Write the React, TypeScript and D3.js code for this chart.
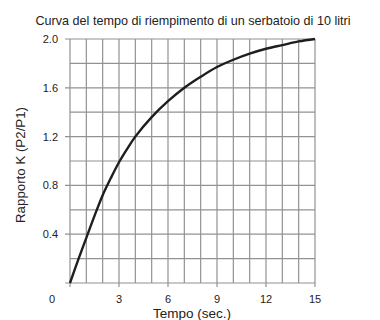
import * as d3 from "d3";

const title = "Curva del tempo di riempimento di un serbatoio di 10 litri";
const xLabel = "Tempo (sec.)";
const yLabel = "Rapporto K (P2/P1)";

// tempo (s) and rapporto K
const tempo = [0, 0.5, 1, 1.5, 2, 2.5, 3, 3.5, 4, 5, 6, 7, 8, 9, 10, 11, 12, 13, 14, 15];
const rapporto = [0, 0.19, 0.37, 0.55, 0.72, 0.86, 0.99, 1.1, 1.2, 1.36, 1.49, 1.6, 1.69, 1.77, 1.83, 1.88, 1.92, 1.95, 1.98, 2.0];

const xTicks = [3, 6, 9, 12, 15];
const yTicks = [0.4, 0.8, 1.2, 1.6, 2.0];
const xGrid = d3.range(0, 16, 1);
const yGrid = d3.range(0, 2.01, 0.2);

export default function App() {
  const width = 380;
  const height = 320;
  const margin = { top: 39, right: 65, bottom: 37, left: 70 };
  const innerWidth = width - margin.left - margin.right;
  const innerHeight = height - margin.top - margin.bottom;

  const x = d3.scaleLinear().domain([0, 15]).range([0, innerWidth]);
  const y = d3.scaleLinear().domain([0, 2]).range([innerHeight, 0]);

  const line = d3
    .line<number>()
    .x((_, i) => x(tempo[i]))
    .y((d) => y(d))
    .curve(d3.curveCatmullRom.alpha(0.5));

  const font = "'Liberation Sans', Arial, sans-serif";
  const grid = "#929292";

  return (
    <svg
      width={width}
      height={height}
      style={{ position: "absolute", left: 0, top: 0, background: "#fff" }}
      fontFamily={font}
    >
      <text x={193} y={25} textAnchor="middle" fontSize={12.6} fill="#222">
        {title}
      </text>
      <g transform={`translate(${margin.left}, ${margin.top})`}>
        {yGrid.map((v) => {
          const labelled = yTicks.some((t) => Math.abs(t - v) < 1e-6) || v === 0;
          return (
            <line
              key={`h${v}`}
              x1={labelled ? -5 : 0}
              x2={innerWidth}
              y1={y(v)}
              y2={y(v)}
              stroke={grid}
              strokeWidth={1.2}
            />
          );
        })}
        {xGrid.map((v) => (
          <line
            key={`v${v}`}
            x1={x(v)}
            x2={x(v)}
            y1={0}
            y2={xTicks.includes(v) || v === 0 ? innerHeight + 4 : innerHeight}
            stroke={grid}
            strokeWidth={1.2}
          />
        ))}
        {yTicks.map((t) => (
          <text
            key={`yl${t}`}
            x={-12}
            y={y(t) + 4}
            textAnchor="end"
            fontSize={11}
            fill="#222"
          >
            {t.toFixed(1)}
          </text>
        ))}
        <text x={-18} y={innerHeight + 20} textAnchor="middle" fontSize={11} fill="#222">
          0
        </text>
        {xTicks.map((t) => (
          <text
            key={`xl${t}`}
            x={x(t)}
            y={innerHeight + 20}
            textAnchor="middle"
            fontSize={11}
            fill="#222"
          >
            {t}
          </text>
        ))}
        <path d={line(rapporto) ?? ""} fill="none" stroke="#1e1e1e" strokeWidth={2.4} />
      </g>
      <text
        transform={`translate(25, 165) rotate(-90)`}
        textAnchor="middle"
        fontSize={13.3}
        fill="#222"
      >
        {yLabel}
      </text>
      <text x={192} y={318} textAnchor="middle" fontSize={13.5} fill="#222">
        {xLabel}
      </text>
    </svg>
  );
}
